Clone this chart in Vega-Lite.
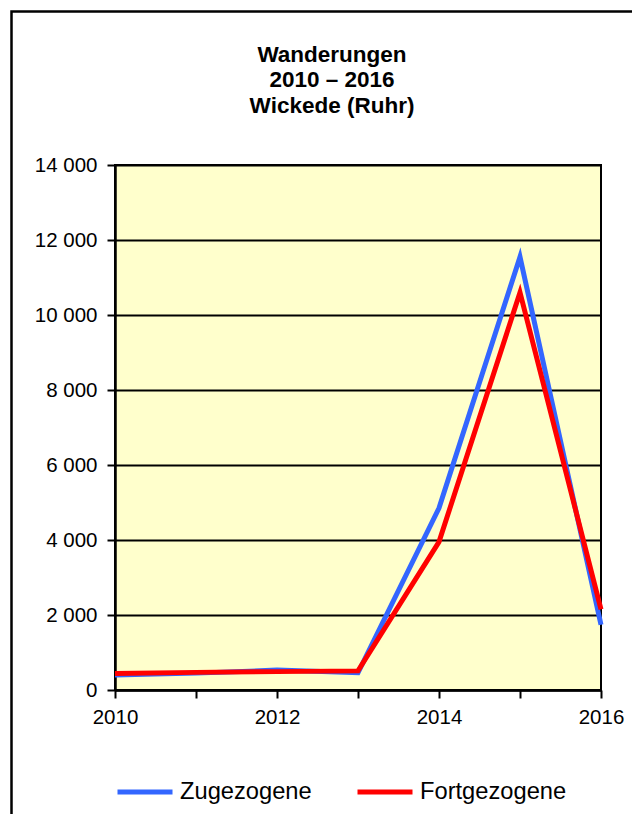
{
  "$schema": "https://vega.github.io/schema/vega-lite/v6.json",
  "autosize": "none",
  "width": 486,
  "height": 525,
  "padding": {"left": 115, "top": 165, "right": 31, "bottom": 124},
  "background": "white",
  "title": {
    "text": ["Wanderungen", "2010 – 2016", "Wickede (Ruhr)"],
    "font": "Liberation Sans",
    "fontSize": 22.5,
    "fontWeight": "bold",
    "color": "black",
    "lineHeight": 25.5,
    "anchor": "middle",
    "frame": "group",
    "dx": -26,
    "offset": -107
  },
  "config": {
    "view": {"fill": "#FFFFCC", "stroke": "black", "strokeWidth": 2},
    "axis": {
      "labelFont": "Liberation Sans",
      "labelFontSize": 20.5,
      "labelColor": "black",
      "domainColor": "black",
      "domainWidth": 2.5,
      "tickColor": "black",
      "tickWidth": 2,
      "tickSize": 8,
      "title": null
    }
  },
  "datasets": {
    "main": [
      {"year": 2010, "series": "Zugezogene", "value": 400},
      {"year": 2011, "series": "Zugezogene", "value": 450},
      {"year": 2012, "series": "Zugezogene", "value": 530},
      {"year": 2013, "series": "Zugezogene", "value": 460},
      {"year": 2014, "series": "Zugezogene", "value": 4850},
      {"year": 2015, "series": "Zugezogene", "value": 11550},
      {"year": 2016, "series": "Zugezogene", "value": 1740},
      {"year": 2010, "series": "Fortgezogene", "value": 440},
      {"year": 2011, "series": "Fortgezogene", "value": 470},
      {"year": 2012, "series": "Fortgezogene", "value": 490},
      {"year": 2013, "series": "Fortgezogene", "value": 510},
      {"year": 2014, "series": "Fortgezogene", "value": 3950},
      {"year": 2015, "series": "Fortgezogene", "value": 10600},
      {"year": 2016, "series": "Fortgezogene", "value": 2150}
    ]
  },
  "layer": [
    {
      "data": {"values": [{"frame": 1}]},
      "mark": {"type": "rect", "fill": null, "stroke": "black", "strokeWidth": 2.5, "clip": false},
      "encoding": {
        "x": {"value": -103.5},
        "x2": {"value": 540},
        "y": {"value": -153.5},
        "y2": {"value": 680}
      }
    },
    {
      "data": {"name": "main"},
      "mark": {"type": "line", "strokeWidth": 5, "strokeJoin": "miter"},
      "encoding": {
        "x": {
          "field": "year",
          "type": "quantitative",
          "scale": {"domain": [2010, 2016], "nice": false, "zero": false},
          "axis": {
            "values": [2010, 2011, 2012, 2013, 2014, 2015, 2016],
            "grid": false,
            "labelExpr": "datum.value % 2 == 0 ? format(datum.value, 'd') : ''",
            "labelPadding": 9,
            "labelFlush": false
          }
        },
        "y": {
          "field": "value",
          "type": "quantitative",
          "scale": {"domain": [0, 14000], "nice": false},
          "axis": {
            "values": [0, 2000, 4000, 6000, 8000, 10000, 12000, 14000],
            "grid": true,
            "gridColor": "black",
            "gridWidth": 2,
            "gridOpacity": 1,
            "labelExpr": "replace(format(datum.value, ',d'), ',', ' ')",
            "labelPadding": 10
          }
        },
        "color": {
          "field": "series",
          "type": "nominal",
          "scale": {"domain": ["Zugezogene", "Fortgezogene"], "range": ["#3366FF", "#FF0000"]},
          "legend": {
            "title": null,
            "orient": "none",
            "legendX": 0,
            "legendY": 597,
            "direction": "horizontal",
            "gridAlign": "none",
            "symbolType": "stroke",
            "symbolSize": 3025,
            "symbolStrokeWidth": 5,
            "labelFont": "Liberation Sans",
            "labelFontSize": 23.7,
            "labelColor": "black",
            "labelOffset": 5,
            "columnPadding": 35
          }
        },
        "order": {"field": "year"}
      }
    }
  ]
}
